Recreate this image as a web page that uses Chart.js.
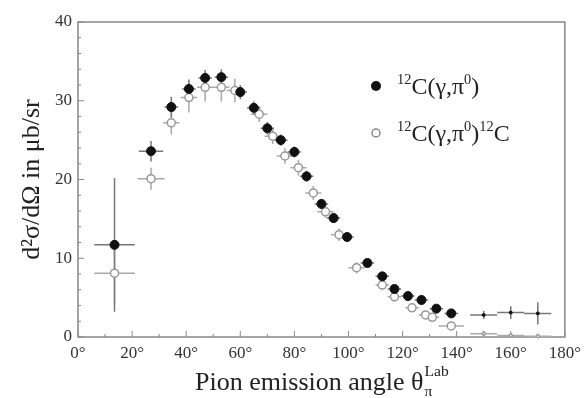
<!DOCTYPE html>
<html>
<head>
<meta charset="utf-8">
<script src="https://cdn.jsdelivr.net/npm/chart.js@4.4.1/dist/chart.umd.min.js"></script>
<style>
  html, body { margin: 0; padding: 0; background: #fff; }
</style>
</head>
<body>
<canvas id="chart" width="587" height="398"></canvas>
<script>
// ============================================
// DATA
// ============================================

// 12C(gamma,pi0) inclusive - filled circles
const incAngle    = [13.5, 27, 34.5, 41, 47, 53, 60, 65, 70, 75, 80, 84.5, 90, 94.5, 99.5, 107, 112.5, 117, 122, 127, 132.5, 138, 150, 160, 170];
const incValue    = [11.7, 23.6, 29.2, 31.5, 32.9, 33.0, 31.1, 29.1, 26.5, 25.0, 23.5, 20.4, 16.9, 15.1, 12.7, 9.4, 7.7, 6.1, 5.2, 4.7, 3.6, 3.0, 2.8, 3.1, 3.0];
const incAngleErr = [7.5, 4.5, 2.5, 2.5, 2.5, 2.5, 2.5, 2.5, 2.5, 2.5, 2.5, 2.5, 2.5, 2.5, 2.5, 2.5, 2.5, 2.5, 2.5, 2.5, 2.5, 2.5, 5, 5, 5];
const incValueErr = [8.5, 1.3, 1.3, 1.2, 1.0, 1.0, 0.9, 0.8, 0.8, 0.7, 0.7, 0.7, 0.6, 0.6, 0.6, 0.5, 0.5, 0.5, 0.5, 0.5, 0.5, 0.5, 0.5, 0.8, 1.4];

// 12C(gamma,pi0)12C coherent - open circles
const cohAngle    = [13.5, 27, 34.5, 41, 47, 53, 58, 67, 72, 76.5, 81.5, 87, 91.5, 96.5, 103, 112.5, 117, 123.5, 128.5, 131, 138, 150, 160, 170];
const cohValue    = [8.1, 20.1, 27.2, 30.4, 31.7, 31.7, 31.3, 28.3, 25.5, 23.0, 21.5, 18.3, 15.9, 13.0, 8.8, 6.6, 5.1, 3.7, 2.8, 2.5, 1.4, 0.4, 0.2, 0.1];
const cohAngleErr = [7.5, 5, 3, 3, 3, 3, 3, 3, 3, 3, 3, 3, 3, 3, 3, 2.5, 2.5, 2.5, 2.5, 2.5, 4.7, 5, 5, 5];
const cohValueErr = [4, 1.4, 1.5, 1.9, 1.8, 1.8, 1.5, 1.0, 1.0, 1.0, 1.0, 0.9, 0.8, 0.8, 0.7, 0.6, 0.6, 0.5, 0.5, 0.5, 0.5, 0.4, 0.3, 0.3];

const SERIF = '"Liberation Serif", "Times New Roman", serif';

// ============================================
// HELPERS
// ============================================

// build {x, y} points from two arrays
function toPoints(xs, ys) {
    return xs.map((v, i) => ({ x: v, y: ys[i] }));
}

// draw text with superscript / subscript pieces
function drawRuns(ctx, x, y, runs, size) {
    runs.forEach(r => {
        const small = r.sup || r.sub;
        const s = small ? size * 0.6 : size;
        ctx.font = s + 'px ' + SERIF;
        const dy = r.sup ? -size * 0.4 : (r.sub ? size * 0.3 : 0);
        ctx.fillText(r.t, x, y + dy);
        x += ctx.measureText(r.t).width;
    });
    return x;
}

function runsWidth(ctx, runs, size) {
    let w = 0;
    runs.forEach(r => {
        const s = (r.sup || r.sub) ? size * 0.6 : size;
        ctx.font = s + 'px ' + SERIF;
        w += ctx.measureText(r.t).width;
    });
    return w;
}

// ============================================
// PLUGINS
// ============================================

// frame + inward tick marks
const frameTicks = {
    id: 'frameTicks',
    beforeDatasetsDraw(chart) {
        const { ctx, chartArea: a, scales: { x, y } } = chart;
        ctx.save();
        ctx.strokeStyle = '#888';
        ctx.lineWidth = 1.5;
        ctx.strokeRect(a.left, a.top, a.right - a.left, a.bottom - a.top);

        ctx.lineWidth = 1;
        ctx.beginPath();
        for (let v = 0; v <= 180; v += 10) {
            const px = x.getPixelForValue(v);
            const len = v % 20 === 0 ? 6 : 3;
            ctx.moveTo(px, a.bottom);
            ctx.lineTo(px, a.bottom - len);
        }
        for (let v = 0; v <= 40; v += 2) {
            const py = y.getPixelForValue(v);
            const len = v % 10 === 0 ? 6 : 3;
            ctx.moveTo(a.left, py);
            ctx.lineTo(a.left + len, py);
        }
        ctx.stroke();
        ctx.restore();
    }
};

// error bars for both series
const errorBars = {
    id: 'errorBars',
    beforeDatasetsDraw(chart) {
        const { ctx, scales: { x, y } } = chart;
        const sets = [
            { xs: cohAngle, ys: cohValue, ex: cohAngleErr, ey: cohValueErr, color: '#aaa' },
            { xs: incAngle, ys: incValue, ex: incAngleErr, ey: incValueErr, color: '#777' }
        ];
        ctx.save();
        ctx.lineWidth = 1.5;
        sets.forEach(s => {
            ctx.strokeStyle = s.color;
            ctx.beginPath();
            s.xs.forEach((xv, i) => {
                const yv = s.ys[i];
                const cx = x.getPixelForValue(xv);
                const cy = y.getPixelForValue(yv);
                ctx.moveTo(x.getPixelForValue(xv - s.ex[i]), cy);
                ctx.lineTo(x.getPixelForValue(xv + s.ex[i]), cy);
                ctx.moveTo(cx, y.getPixelForValue(yv - s.ey[i]));
                ctx.lineTo(cx, y.getPixelForValue(yv + s.ey[i]));
            });
            ctx.stroke();
        });
        ctx.restore();
    }
};

// legend inside the plot + x-axis title with sub/superscripts
const annotations = {
    id: 'annotations',
    afterDraw(chart) {
        const { ctx, chartArea: a } = chart;
        ctx.save();
        ctx.textBaseline = 'alphabetic';

        // ----- legend -----
        const lx = a.left + 298;
        const ly1 = a.top + 64;
        const ly2 = a.top + 111;
        ctx.beginPath();
        ctx.arc(lx, ly1, 5, 0, Math.PI * 2);
        ctx.fillStyle = '#111';
        ctx.fill();
        ctx.beginPath();
        ctx.arc(lx, ly2, 4, 0, Math.PI * 2);
        ctx.strokeStyle = '#888';
        ctx.lineWidth = 1.5;
        ctx.stroke();

        ctx.fillStyle = '#222';
        drawRuns(ctx, lx + 21, ly1 + 8, [
            { t: '12', sup: true }, { t: 'C(γ,π' }, { t: '0', sup: true }, { t: ')' }
        ], 24);
        drawRuns(ctx, lx + 21, ly2 + 8, [
            { t: '12', sup: true }, { t: 'C(γ,π' }, { t: '0', sup: true }, { t: ')' },
            { t: '12', sup: true }, { t: 'C' }
        ], 24);

        // ----- x-axis title -----
        const size = 26;
        const main = [{ t: 'Pion emission angle θ' }];
        const w = runsWidth(ctx, main, size) + runsWidth(ctx, [{ t: 'Lab', sup: true }], size);
        const tx = (a.left + a.right) / 2 - w / 2;
        const ty = 390;
        const endX = drawRuns(ctx, tx, ty, main, size);
        ctx.font = (size * 0.6) + 'px ' + SERIF;
        ctx.fillText('Lab', endX + 1, ty - size * 0.55);
        ctx.fillText('π', endX + 1, ty + size * 0.22);
        ctx.restore();
    }
};

// ============================================
// CHART
// ============================================

const ctx = document.getElementById('chart').getContext('2d');

new Chart(ctx, {
    type: 'scatter',
    data: {
        datasets: [
            {
                label: '12C(γ,π0)',
                data: toPoints(incAngle, incValue),
                backgroundColor: '#111',
                borderColor: '#111',
                pointRadius: incAngle.map(v => v >= 145 ? 1.5 : 4.5),
                borderWidth: 1
            },
            {
                label: '12C(γ,π0)12C',
                data: toPoints(cohAngle, cohValue),
                backgroundColor: '#fff',
                borderColor: '#999',
                pointRadius: cohAngle.map(v => v >= 145 ? 1.5 : 4),
                borderWidth: 1.5
            }
        ]
    },
    options: {
        responsive: false,
        animation: false,
        layout: { padding: { left: 0, right: 14, top: 22, bottom: 0 } },
        plugins: {
            legend: { display: false },
            tooltip: { enabled: false }
        },
        scales: {
            x: {
                type: 'linear',
                min: 0,
                max: 180,
                grid: { display: false, drawTicks: false },
                border: { display: false },
                ticks: {
                    stepSize: 20,
                    padding: 6,
                    color: '#333',
                    font: { family: SERIF, size: 17 },
                    maxRotation: 0,
                    callback: v => v + '°'
                },
                afterFit: s => { s.height = 61; }
            },
            y: {
                min: 0,
                max: 40,
                grid: { display: false, drawTicks: false },
                border: { display: false },
                ticks: {
                    stepSize: 10,
                    padding: 6,
                    color: '#333',
                    font: { family: SERIF, size: 17 }
                },
                title: {
                    display: true,
                    text: 'd²σ/dΩ in μb/sr',
                    color: '#222',
                    font: { family: SERIF, size: 26 },
                    padding: { top: 17, bottom: 0 }
                },
                afterFit: s => { s.width = 78; }
            }
        }
    },
    plugins: [frameTicks, errorBars, annotations]
});
</script>
</body>
</html>
